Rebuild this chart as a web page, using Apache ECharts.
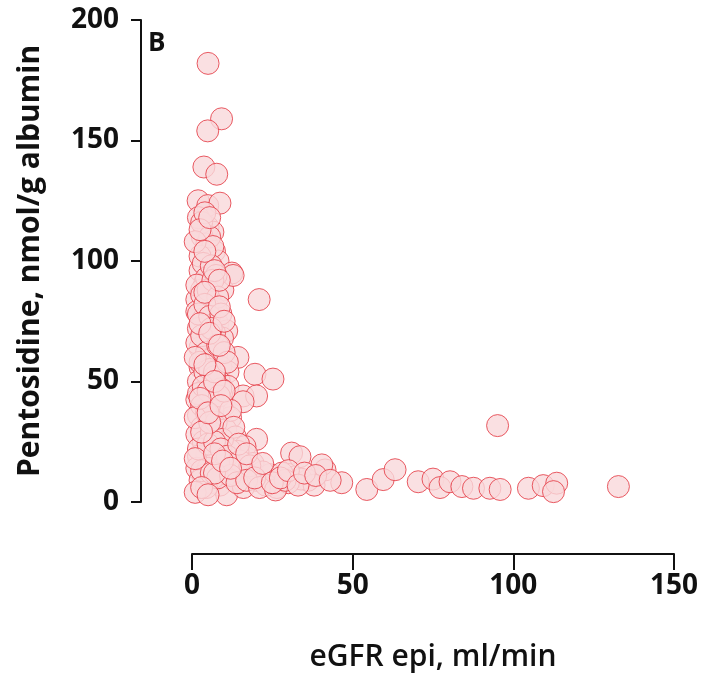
<!DOCTYPE html>
<html>
<head>
    <meta charset="utf-8">
    <title>Pentosidine vs eGFR</title>
    <script src="https://cdn.jsdelivr.net/npm/echarts@6/dist/echarts.min.js"></script>
</head>
<body style="margin:0">
<div id="main" style="width:704px;height:679px"></div>
<script type="text/javascript">
    // eGFR epi (ml/min) and pentosidine (nmol/g albumin)
    const egfr = [
        5.0, 9.2, 4.9, 3.7, 7.7,
        1.9, 4.9, 8.7, 5.0, 6.5, 3.2, 4.6, 7.0, 8.1, 12.4, 2.5, 4.0, 9.6, 3.0, 20.9, 5.6, 1.5, 7.5,
        5.0, 1.5, 3.5, 8.0, 10.8, 2.0, 9.5, 4.6, 2.5, 7.0, 14.3, 6.1, 3.5, 2.5, 9.0, 11.2, 19.6, 25.2,
        5.0, 2.0, 8.5, 11.2, 3.5, 15.9, 20.1, 1.5, 6.5, 10.0, 15.9, 4.0, 2.0, 8.0, 12.0, 5.5, 7.2, 3.0,
        10.5, 1.5, 6.0, 13.5, 20.1, 3.5, 9.0, 16.5, 14.3, 4.6, 31.0, 2.0, 11.5, 7.5, 19.0, 1.5, 5.0,
        10.0, 14.0, 3.5, 17.0, 24.3, 32.0, 22.0, 28.0, 41.4, 33.6, 40.4, 2.5, 8.7, 13.0, 6.0, 20.0,
        36.1, 34.0, 26.4, 30.0, 46.6, 10.8, 4.5, 16.0, 23.0, 38.0, 5.6, 12.8, 11.8,
        54.4, 59.5, 63.2, 70.4, 75.0, 77.2, 80.3, 84.0, 87.6, 92.7, 95.9, 95.1, 104.7, 109.3, 113.5,
        112.5, 132.7
    ]
    const pentosidine = [
        182, 159, 154, 139, 136,
        125, 123, 124, 114, 112, 110, 107, 104, 100, 95, 96, 91, 88, 88, 84, 84, 84, 80,
        81, 79, 76, 74, 71, 72, 68, 67, 64, 63, 60, 60, 59, 56, 56, 54, 53, 51,
        50, 50, 50, 48, 46, 44, 44, 42.5, 42.5, 40, 41.6, 39, 36, 36, 35, 34, 32, 31,
        30, 28, 28, 27, 26, 25, 24, 23, 21, 19.5, 20.3, 19, 18, 17, 16, 14, 14,
        14, 13, 11, 12, 11.4, 10.5, 12.5, 12, 13.3, 18.8, 15.4, 9, 7, 9, 8, 9,
        9, 9.5, 6, 8, 8, 3, 6, 6, 7, 7, 33, 94, 21.6,
        5.2, 9.3, 13.4, 8.4, 9.5, 6, 8.4, 6.4, 5.7, 5.7, 5.2, 31.7, 5.7, 6.8, 7.8,
        4.3, 6.4
    ]
    // the packed block near the y axis (low eGFR), overlapping circles
    const clusterEgfr = [
        2.0, 3.0, 4.0, 5.5, 6.5, 2.5, 3.5, 4.5, 6.0, 7.5, 1.5, 3.0, 5.0, 6.5, 8.0,
        2.0, 4.0, 5.5, 7.0, 9.0, 1.5, 3.0, 4.5, 6.0, 8.0, 10.0, 2.5, 4.0, 5.5, 7.0,
        9.0, 11.0, 2.0, 3.5, 5.0, 6.5, 8.5, 12.0, 3.0, 4.5, 6.0, 7.5, 9.5, 13.0,
        2.0, 5.0, 7.0, 9.0, 11.0, 15.0, 18.0, 3.0, 6.0, 8.0, 12.0, 14.0, 17.0, 21.0, 26.0, 29.0,
        1.0, 2.5, 4.0, 5.5, 7.0, 8.5, 1.0, 2.5, 4.0, 5.5, 7.0, 8.5, 10.0,
        1.0, 2.5, 4.0, 5.5, 7.0, 8.5, 10.0, 1.0, 3.0, 5.0, 7.0, 9.0,
        1.0, 3.0, 5.0, 7.0, 9.5, 12.0, 14.5, 17.0, 19.5, 22.0, 25.0, 27.5, 30.0, 33.0, 35.0, 38.5, 43.0
    ]
    const clusterPento = [
        118, 116, 120, 110, 106, 102, 99, 93, 98, 94, 90, 86, 88, 92, 85,
        78, 82, 77, 70, 78, 66, 69, 62, 72, 65, 62, 58, 54, 55, 52,
        47, 58, 45, 48, 46, 38, 44, 38, 40, 37, 29, 33, 26, 31,
        22, 24, 25, 22, 19, 17, 15, 13, 12, 10, 11, 8, 9, 6, 5, 9,
        108, 113, 104, 118, 96, 92, 60, 74, 87, 70, 54, 81, 75,
        35, 43, 57, 33, 50, 65, 46, 18, 29, 37, 12, 40,
        4, 6, 3, 20, 17, 14, 24, 20, 10, 16, 8, 10, 13, 7, 12, 11, 9
    ]
    const xTicks = [0, 50, 100, 150]
    const yTicks = [0, 50, 100, 150, 200]

    const points = []
    for (var i = 0; i < egfr.length; i++) {
        points.push([egfr[i], pentosidine[i]])
    }
    for (var j = 0; j < clusterEgfr.length; j++) {
        points.push([clusterEgfr[j], clusterPento[j]])
    }

    var myChart = echarts.init(document.getElementById('main'))
    var font = '"Open Sans", Lato, sans-serif'

    var option = {
        animation: false,
        backgroundColor: '#fff',
        grid: { left: 192, right: 30, top: 20, bottom: 177, outerBoundsMode: 'none', containLabel: false },
        xAxis: {
            type: 'value',
            min: xTicks[0], max: xTicks[xTicks.length - 1], interval: 50,
            offset: 52,
            name: 'eGFR epi, ml/min',
            nameLocation: 'middle',
            nameGap: 88,
            nameTextStyle: { fontFamily: font, fontSize: 30, fontWeight: 600, color: '#111' },
            axisLine: { onZero: false, lineStyle: { color: '#111', width: 2 } },
            axisTick: { length: 16, lineStyle: { color: '#111', width: 2 } },
            axisLabel: { margin: 18, fontFamily: font, fontSize: 28, fontWeight: 'bold', color: '#111' },
            splitLine: { show: false }
        },
        yAxis: {
            type: 'value',
            min: yTicks[0], max: yTicks[yTicks.length - 1], interval: 50,
            offset: 51,
            name: 'Pentosidine, nmol/g albumin',
            nameLocation: 'middle',
            nameGap: 96,
            nameTextStyle: { fontFamily: font, fontSize: 30, fontWeight: 'bold', color: '#111' },
            axisLine: { show: true, onZero: false, lineStyle: { color: '#111', width: 2 } },
            axisTick: { show: true, length: 10, lineStyle: { color: '#111', width: 2 } },
            axisLabel: { margin: 22, fontFamily: font, fontSize: 28, fontWeight: 'bold', color: '#111' },
            splitLine: { show: false }
        },
        graphic: [{
            type: 'text', left: 148, top: 31,
            style: { text: 'B', font: 'bold 26px ' + font, fill: '#111' }
        }],
        series: [{
            type: 'scatter',
            data: points,
            symbolSize: 22,
            itemStyle: { color: '#f9d8db', borderColor: '#e4353f', borderWidth: 1 }
        }]
    }

    myChart.setOption(option)
</script>
</body>
</html>
